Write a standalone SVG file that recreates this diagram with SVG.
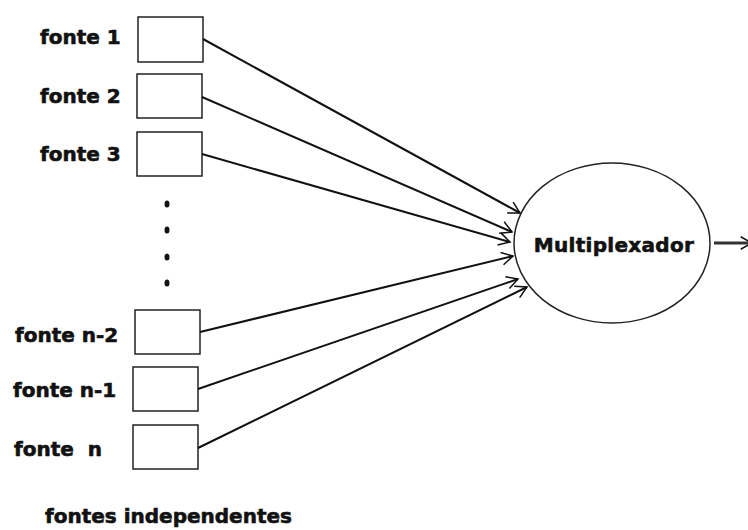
<svg xmlns="http://www.w3.org/2000/svg" width="748" height="530" viewBox="0 0 748 530">
  <style>
    .label { font-family: "DejaVu Sans", "Liberation Sans", sans-serif; font-weight: bold; font-size: 20px; fill: #111; stroke: #111; stroke-width: 0.6; }
    .box { fill: #fff; stroke: #222; stroke-width: 1.5; }
    .link { stroke: #111; stroke-width: 2; fill: none; }
    .dot { fill: #111; }
  </style>
  <defs>
    <marker id="arrow" markerUnits="userSpaceOnUse" markerWidth="20" markerHeight="20" refX="0" refY="0" viewBox="-12 -8 14 16" orient="auto" overflow="visible">
      <path d="M -9 -5 L 0 0 L -9 5" fill="none" stroke="#111" stroke-width="1.2"/>
    </marker>
  </defs>
  <rect width="748" height="530" fill="#fff"/>

  <!-- sources -->
  <g id="fonte1">
    <text class="label" x="40" y="44">fonte 1</text>
    <rect class="box" x="138" y="17" width="65" height="45"/>
  </g>
  <g id="fonte2">
    <text class="label" x="40" y="103">fonte 2</text>
    <rect class="box" x="137" y="74" width="65" height="44"/>
  </g>
  <g id="fonte3">
    <text class="label" x="40" y="161">fonte 3</text>
    <rect class="box" x="137" y="132" width="65" height="44"/>
  </g>
  <g id="ellipsis">
    <ellipse class="dot" cx="167" cy="204" rx="2.5" ry="3.5"/>
    <ellipse class="dot" cx="167" cy="230" rx="2.5" ry="3.5"/>
    <ellipse class="dot" cx="167" cy="257" rx="2.5" ry="3.5"/>
    <ellipse class="dot" cx="167" cy="283" rx="2.5" ry="3.5"/>
  </g>
  <g id="fonte-n-2">
    <text class="label" x="15" y="342">fonte n-2</text>
    <rect class="box" x="135" y="310" width="65" height="44"/>
  </g>
  <g id="fonte-n-1">
    <text class="label" x="13" y="397">fonte n-1</text>
    <rect class="box" x="133" y="367" width="65" height="44"/>
  </g>
  <g id="fonte-n">
    <text class="label" x="14" y="456" xml:space="preserve">fonte  n</text>
    <rect class="box" x="133" y="425" width="65" height="44"/>
  </g>

  <!-- multiplexer -->
  <g id="multiplexador">
    <ellipse cx="612" cy="243" rx="98" ry="80" fill="#fff" stroke="#222" stroke-width="1.5"/>
    <text class="label" x="614" y="252" text-anchor="middle" letter-spacing="0.3">Multiplexador</text>
  </g>

  <g id="caption">
    <text class="label" x="45" y="523">fontes independentes</text>
  </g>

  <!-- connectors -->
  <g id="connectors">
    <line class="link" x1="203" y1="39" x2="520" y2="213" marker-end="url(#arrow)"/>
    <line class="link" x1="202" y1="97" x2="512" y2="232" marker-end="url(#arrow)"/>
    <line class="link" x1="202" y1="154" x2="510" y2="242" marker-end="url(#arrow)"/>
    <line class="link" x1="200" y1="332" x2="513" y2="256" marker-end="url(#arrow)"/>
    <line class="link" x1="198" y1="389" x2="518" y2="279" marker-end="url(#arrow)"/>
    <line class="link" x1="198" y1="448" x2="527" y2="287" marker-end="url(#arrow)"/>
    <line x1="714" y1="243" x2="752" y2="243" stroke="#333" stroke-width="3" marker-end="url(#arrow)"/>
  </g>
</svg>
